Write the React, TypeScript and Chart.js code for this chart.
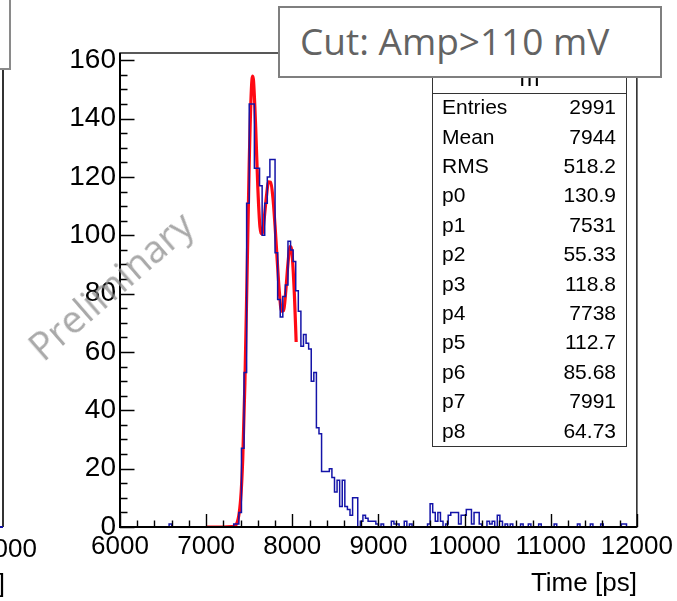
import React, { useEffect, useRef } from "react";
import { Chart, registerables } from "chart.js";

Chart.register(...registerables);

// Histogram binning: 200 bins of 30 ps from 6000 to 12000 ps
const BIN_START = 6000;
const BIN_WIDTH = 30;
const counts = [
  0, 0, 0, 0, 0, 0, 0, 0, 0, 0,
  0, 0, 0, 0, 0, 0, 0, 0, 0, 1,
  0, 0, 0, 0, 0, 0, 0, 0, 0, 0,
  0, 0, 0, 0, 0, 0, 0, 0, 0, 0,
  0, 0, 0, 0, 1, 1, 5, 27, 53, 111,
  145, 145, 123, 123, 117, 100, 111, 120, 126, 126,
  94, 78, 72, 79, 83, 98, 95, 91, 81, 74,
  62, 66, 63, 61, 50, 53, 34, 32, 19, 19,
  19, 20, 17, 12, 16, 7, 16, 7, 6, 4,
  10, 10, 0, 2, 4, 3, 2, 2, 2, 1,
  0, 1, 0, 0, 0, 2, 1, 1, 0, 0,
  2, 0, 1, 0, 0, 0, 0, 0, 0, 1,
  8, 5, 2, 5, 2, 0, 1, 4, 5, 5,
  5, 1, 4, 4, 6, 6, 1, 5, 5, 1,
  0, 0, 2, 1, 2, 0, 4, 2, 0, 1,
  0, 1, 0, 0, 0, 1, 0, 0, 1, 0,
  0, 0, 1, 0, 0, 0, 0, 0, 1, 0,
  0, 0, 0, 0, 0, 0, 0, 1, 0, 0,
  0, 0, 1, 0, 0, 0, 1, 0, 0, 0,
  0, 0, 0, 0, 1, 1, 0, 0, 0, 0,
];

// Red fit curve
const fitTimes = [
  7000, 7100, 7200, 7300, 7350, 7400, 7425, 7450, 7475, 7500, 7525, 7540, 7550,
  7575, 7600, 7625, 7650, 7675, 7700, 7725, 7750, 7775, 7800, 7825, 7850, 7875,
  7900, 7925, 7950, 7975, 7990, 8000, 8025, 8045,
];
const fitValues = [
  0, 0, 0, 0.1, 0.9, 9.3, 23.4, 49.4, 86.3, 124.7, 150, 154.6, 153,
  137.2, 116.3, 102.8, 100.5, 106, 113.4, 118.3, 118.2, 112.9, 103.2, 91.4, 80.5, 74.0,
  74.2, 81.0, 90.4, 96.1, 95.4, 92.8, 79.3, 63.4,
];

// Axes
const X_MIN = 6000;
const X_MAX = 12000;
const X_MAJOR = 1000;
const X_MINOR = 200;
const Y_MIN = 0;
const Y_MAX = 162.5;
const Y_MAJOR = 20;
const Y_MINOR = 5;

// Stats box
const statsTitle = "m";
const statsLabels = ["Entries", "Mean", "RMS", "p0", "p1", "p2", "p3", "p4", "p5", "p6", "p7", "p8"];
const statsValues = ["2991", "7944", "518.2", "130.9", "7531", "55.33", "118.8", "7738", "112.7", "85.68", "7991", "64.73"];

const cutText = "Cut: Amp>110 mV";
const watermark = "Preliminary";
const xTitle = "Time [ps]";
const prevPanelLabel = "12000";

const SANS = "'Liberation Sans', Arial, sans-serif";

const rootFrame = {
  id: "rootFrame",
  afterDatasetsDraw(chart: any) {
    const { ctx, chartArea: a, scales } = chart;
    const x = scales.x;
    const y = scales.y;
    ctx.save();
    ctx.strokeStyle = "#222";
    ctx.lineWidth = 1.5;
    ctx.strokeRect(a.left, a.top, a.right - a.left, a.bottom - a.top);
    ctx.strokeStyle = "#000";
    ctx.lineWidth = 2;
    ctx.beginPath();
    ctx.moveTo(a.left, a.top);
    ctx.lineTo(a.left, a.bottom);
    ctx.lineTo(a.right, a.bottom);
    ctx.stroke();
    ctx.lineWidth = 1.4;
    ctx.beginPath();
    for (let v = X_MIN; v <= X_MAX + 1e-6; v += X_MINOR) {
      const px = Math.round(x.getPixelForValue(v)) + 0.5;
      const major = Math.abs((v - X_MIN) % X_MAJOR) < 1e-6;
      const len = major ? 13 : 6.5;
      ctx.moveTo(px, a.bottom);
      ctx.lineTo(px, a.bottom - len);
    }
    for (let v = Y_MIN; v <= Y_MAX + 1e-6; v += Y_MINOR) {
      const py = Math.round(y.getPixelForValue(v)) + 0.5;
      const major = Math.abs(v % Y_MAJOR) < 1e-6;
      const len = major ? 14.5 : 7.5;
      ctx.moveTo(a.left, py);
      ctx.lineTo(a.left + len, py);
    }
    ctx.stroke();
    ctx.restore();
  },
};

export default function App() {
  const canvasRef = useRef<HTMLCanvasElement | null>(null);

  useEffect(() => {
    const canvas = canvasRef.current;
    if (!canvas) return;
    const histPoints = counts.map((c, i) => ({ x: BIN_START + BIN_WIDTH * i, y: c }));
    histPoints.push({ x: BIN_START + BIN_WIDTH * counts.length, y: counts[counts.length - 1] });
    const fitPoints = fitTimes.map((t, i) => ({ x: t, y: fitValues[i] }));

    const chart = new Chart(canvas, {
      type: "line",
      data: {
        datasets: [
          {
            label: "hist",
            data: histPoints,
            borderColor: "#1414a8",
            borderWidth: 1.5,
            stepped: "before",
            pointRadius: 0,
            fill: false,
            borderJoinStyle: "miter",
          },
          {
            label: "fit",
            data: fitPoints,
            borderColor: "#ff0a14",
            borderWidth: 3.2,
            pointRadius: 0,
            fill: false,
            cubicInterpolationMode: "monotone",
          },
        ],
      },
      options: {
        animation: false,
        responsive: false,
        events: [],
        layout: { padding: { top: 53, right: 40, left: 0, bottom: 0 } },
        plugins: {
          legend: { display: false },
          tooltip: { enabled: false },
          title: { display: false },
        },
        scales: {
          x: {
            type: "linear",
            min: X_MIN,
            max: X_MAX,
            grid: { display: false, drawTicks: false },
            border: { display: false },
            ticks: {
              stepSize: X_MAJOR,
              autoSkip: false,
              maxRotation: 0,
              includeBounds: false,
              padding: 4,
              color: "#000",
              font: { family: SANS, size: 26 },
              callback: (v: any) => String(v),
            },
            title: {
              display: true,
              text: xTitle,
              align: "end",
              color: "#000",
              padding: 0,
              font: { family: SANS, size: 26, lineHeight: 1.3 },
            },
            afterFit: (s: any) => {
              s.height = 74;
            },
          },
          y: {
            type: "linear",
            min: Y_MIN,
            max: Y_MAX,
            grid: { display: false, drawTicks: false },
            border: { display: false },
            ticks: {
              stepSize: Y_MAJOR,
              autoSkip: false,
              includeBounds: false,
              padding: 4,
              color: "#000",
              font: { family: SANS, size: 28 },
              callback: (v: any) => String(v),
            },
            afterFit: (s: any) => {
              s.width = 120;
            },
          },
        },
      },
      plugins: [rootFrame],
    } as any);

    return () => {
      chart.destroy();
    };
  }, []);

  const rowTop = 95.2;
  const rowH = 29.4;

  return (
    <div
      style={{
        position: "absolute",
        left: 0,
        top: 0,
        width: 677,
        height: 601,
        overflow: "hidden",
        background: "#fff",
      }}
    >
      <canvas ref={canvasRef} width={677} height={601} style={{ display: "block", position: "absolute", left: 0, top: 0 }} />

      {/* remnants of the neighbouring panel on the left */}
      <div style={{ position: "absolute", left: -10, top: -10, width: 21, height: 80, border: "2px solid #8a8a8a", boxSizing: "border-box", background: "#fff" }} />
      <div style={{ position: "absolute", left: 2, top: 70, width: 1.5, height: 457, background: "#333" }} />
      <div style={{ position: "absolute", left: 0, top: 526, width: 3, height: 2, background: "#1414a8" }} />
      <div style={{ position: "absolute", right: 640, top: 532, font: `26px ${SANS}`, lineHeight: "32px", color: "#000", whiteSpace: "nowrap" }}>{prevPanelLabel}</div>
      <div style={{ position: "absolute", right: 672, top: 567, font: `26px ${SANS}`, lineHeight: "32px", color: "#000", whiteSpace: "nowrap" }}>{xTitle}</div>

      {/* stats box */}
      <div
        style={{
          position: "absolute",
          left: 432,
          top: 58,
          width: 195,
          height: 389,
          border: "1.5px solid #333",
          boxSizing: "border-box",
          background: "#fff",
        }}
      />
      <div style={{ position: "absolute", left: 432, top: 92.5, width: 195, height: 1.5, background: "#333" }} />
      <div style={{ position: "absolute", left: 432, width: 195, top: 64, textAlign: "center", font: `24px ${SANS}`, lineHeight: "28px", color: "#000" }}>{statsTitle}</div>
      {statsLabels.map((lab, k) => (
        <div
          key={lab}
          style={{
            position: "absolute",
            left: 442,
            width: 174,
            top: rowTop + rowH * k,
            height: rowH,
            lineHeight: `${rowH}px`,
            font: `21px ${SANS}`,
            color: "#000",
            display: "flex",
            justifyContent: "space-between",
            whiteSpace: "nowrap",
          }}
        >
          <span>{lab}</span>
          <span>{statsValues[k]}</span>
        </div>
      ))}

      {/* cut label box */}
      <div
        style={{
          position: "absolute",
          left: 278,
          top: 6,
          width: 384,
          height: 72,
          border: "2px solid #7f7f7f",
          boxSizing: "border-box",
          background: "#fff",
        }}
      />
      <div style={{ position: "absolute", left: 300, top: 16, font: `37px 'Open Sans', 'Noto Sans', sans-serif`, lineHeight: "50px", color: "#636363", whiteSpace: "nowrap" }}>{cutText}</div>

      {/* watermark */}
      <div
        style={{
          position: "absolute",
          left: 110,
          top: 285,
          transform: "translate(-50%, -50%) rotate(-41deg)",
          font: `38px 'Open Sans', 'Noto Sans', sans-serif`,
          lineHeight: "44px",
          color: "rgba(140,140,140,0.75)",
          whiteSpace: "nowrap",
        }}
      >
        {watermark}
      </div>
    </div>
  );
}
